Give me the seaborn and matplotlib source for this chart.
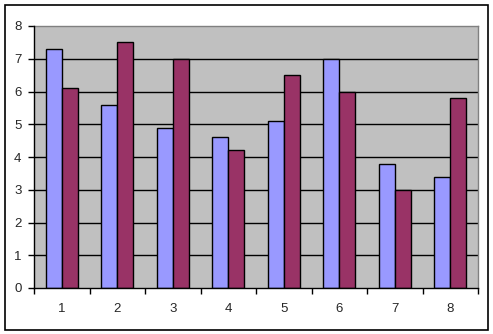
import matplotlib
matplotlib.use("Agg")
import matplotlib.pyplot as plt
import matplotlib.patches as mpatches
from matplotlib.ticker import FixedLocator, NullFormatter
import seaborn as sns
import pandas as pd

categories = ["1", "2", "3", "4", "5", "6", "7", "8"]
series_a = [7.3, 5.6, 4.9, 4.6, 5.1, 7.0, 3.8, 3.4]
series_b = [6.1, 7.5, 7.0, 4.2, 6.5, 6.0, 3.0, 5.8]
series_names = ["Series1", "Series2"]
y_ticks = [0, 1, 2, 3, 4, 5, 6, 7, 8]

df = pd.DataFrame({
    "cat": categories * 2,
    "val": series_a + series_b,
    "series": [series_names[0]] * len(categories) + [series_names[1]] * len(categories),
})

sns.set_style("white")
plt.rcParams["font.family"] = ["Liberation Sans", "DejaVu Sans"]

fig = plt.figure(figsize=(4.93, 3.34), dpi=100)
ax = fig.add_axes([34 / 493, 1 - 288 / 334, (478 - 34) / 493, (288 - 26) / 334])

sns.barplot(data=df, x="cat", y="val", hue="series", order=categories,
            palette=["#9999FF", "#993366"], width=0.58, edgecolor="black",
            linewidth=1.0, saturation=1, legend=False, ax=ax, zorder=3)

ax.set_facecolor("#C0C0C0")
ax.set_xlim(-0.5, 7.5)
ax.set_ylim(0, 8)
ax.set_yticks(y_ticks)
ax.set_yticklabels([str(t) for t in y_ticks], fontsize=9.5)
for y in y_ticks[1:-1]:
    ax.axhline(y, color="black", linewidth=1.0, zorder=1)

ax.xaxis.set_major_locator(FixedLocator([i - 0.5 for i in range(len(categories) + 1)]))
ax.xaxis.set_major_formatter(NullFormatter())
ax.xaxis.set_minor_locator(FixedLocator(list(range(len(categories)))))
ax.set_xticklabels(categories, minor=True, fontsize=9.5)
ax.tick_params(axis="x", which="major", length=4, width=1, color="black", direction="out", bottom=True)
ax.tick_params(axis="x", which="minor", length=0, pad=10.5)
ax.tick_params(axis="y", length=4, width=1, color="black", direction="out", left=True, pad=5)

ax.set_xlabel("")
ax.set_ylabel("")
for side in ["left", "bottom"]:
    ax.spines[side].set_color("black")
    ax.spines[side].set_linewidth(1.0)
    ax.spines[side].set_zorder(5)
for side in ["top", "right"]:
    ax.spines[side].set_visible(True)
    ax.spines[side].set_color("#808080")
    ax.spines[side].set_linewidth(1.0)

border = mpatches.Rectangle((5 / 493, 1 - 330 / 334), (488 - 5) / 493, (330 - 5) / 334,
                            transform=fig.transFigure, fill=False, edgecolor="black",
                            linewidth=1.2)
fig.patches.append(border)

fig.savefig("out.png", dpi=100)
